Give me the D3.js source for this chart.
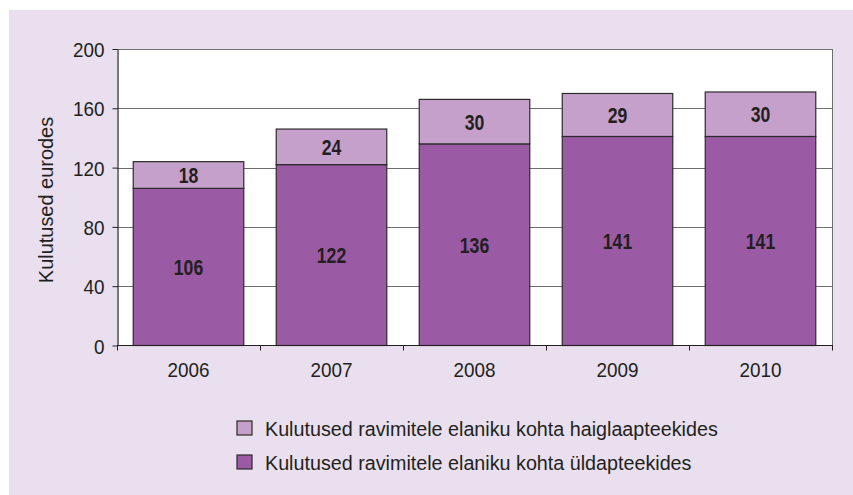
<!DOCTYPE html>
<meta charset="utf-8">
<style>
  body{ margin:0; background:#fff; }
  text{ font-family: "Liberation Sans", Arial, sans-serif; fill:#231f20; }
  .axis path, .axis line{ stroke:#231f20; }
  .grid line{ stroke:#6d6d6d; }
  .barLabel{ font-size:22px; font-weight:bold; }
</style>
<body>
<div id="container"></div>
<script src="https://d3js.org/d3.v7.min.js"></script>
<script>

var years = ['2006', '2007', '2008', '2009', '2010'];
var yldapteegid = [106, 122, 136, 141, 141];
var haiglaapteegid = [18, 24, 30, 29, 30];
var yTicks = [0, 40, 80, 120, 160, 200];
var seriesNames = ['Kulutused ravimitele elaniku kohta haiglaapteekides', 'Kulutused ravimitele elaniku kohta üldapteekides'];
var colors = ['#c5a0cb', '#9a5aa4'];

var width = 853, height = 495;
var plot = {left:117, top:49, right:832, bottom:345.5};
var narrow = 0.9;   // the original face is a condensed Helvetica

var svg = d3.select('#container').append('svg').attr('width', width).attr('height', height);

svg.append('rect').attr('x', 9).attr('y', 10).attr('width', width - 9).attr('height', height - 10).attr('fill', '#e9dfee');
svg.append('rect').attr('x', plot.left).attr('y', plot.top).attr('width', plot.right - plot.left).attr('height', plot.bottom - plot.top).attr('fill', '#fff');

var x = d3.scaleBand().domain(years).range([plot.left, plot.right]).paddingInner(0.227).paddingOuter(0.1135);
var y = d3.scaleLinear().domain([0, 200]).range([plot.bottom, plot.top]);

function squeeze(px, py, sx){
  return 'translate(' + px + ',' + py + ') scale(' + sx + ',1)';
}

// grid
svg.append('g').attr('class', 'grid').selectAll('line').data(yTicks.slice(1)).enter().append('line')
  .attr('x1', plot.left).attr('x2', plot.right)
  .attr('y1', function(d){ return Math.round(y(d)) + 0.5; })
  .attr('y2', function(d){ return Math.round(y(d)) + 0.5; });

// right border
svg.append('line').attr('x1', plot.right + 0.5).attr('x2', plot.right + 0.5).attr('y1', plot.top).attr('y2', plot.bottom).attr('stroke', '#6d6d6d');

var stacked = years.map(function(yr, i){
  return {year:yr, low:yldapteegid[i], high:haiglaapteegid[i]};
});

var bars = svg.append('g').selectAll('g').data(stacked).enter().append('g');

bars.append('rect')
  .attr('x', function(d){ return x(d.year); })
  .attr('width', x.bandwidth())
  .attr('y', function(d){ return y(d.low); })
  .attr('height', function(d){ return y(0) - y(d.low); })
  .attr('fill', colors[1]).attr('stroke', '#2b2b2b').attr('stroke-width', 1.2);

bars.append('rect')
  .attr('x', function(d){ return x(d.year); })
  .attr('width', x.bandwidth())
  .attr('y', function(d){ return y(d.low + d.high); })
  .attr('height', function(d){ return y(d.low) - y(d.low + d.high); })
  .attr('fill', colors[0]).attr('stroke', '#2b2b2b').attr('stroke-width', 1.2);

bars.append('text').attr('class', 'barLabel').attr('text-anchor', 'middle').attr('dy', '0.36em')
  .attr('transform', function(d){ return squeeze(x(d.year) + x.bandwidth() / 2, (y(0) + y(d.low)) / 2, 0.8); })
  .text(function(d){ return d.low; });

bars.append('text').attr('class', 'barLabel').attr('text-anchor', 'middle').attr('dy', '0.36em')
  .attr('transform', function(d){ return squeeze(x(d.year) + x.bandwidth() / 2, (y(d.low) + y(d.low + d.high)) / 2, 0.8); })
  .text(function(d){ return d.high; });

// y axis
var yAxis = svg.append('g').attr('class', 'axis').attr('transform', 'translate(' + (plot.left + 0.5) + ',0)')
  .call(d3.axisLeft(y).tickValues(yTicks).tickSize(5).tickSizeOuter(0));
yAxis.select('.domain').attr('stroke-width', 1.2);
yAxis.selectAll('.tick text')
  .attr('x', null).attr('dy', null)
  .attr('transform', squeeze(-13, 7.5, narrow))
  .style('font-size', '21px').attr('fill', '#231f20');

// x axis, ticks on category edges
var xAxis = svg.append('g').attr('class', 'axis').attr('transform', 'translate(0,' + (plot.bottom) + ')');
xAxis.append('line').attr('x1', plot.left).attr('x2', plot.right + 1).attr('y1', 0).attr('y2', 0).attr('stroke-width', 1.2);
xAxis.selectAll('.tickEdge').data(d3.range(years.length + 1)).enter().append('line').attr('class', 'tickEdge')
  .attr('x1', function(i){ return plot.left + 0.5 + i * x.step(); })
  .attr('x2', function(i){ return plot.left + 0.5 + i * x.step(); })
  .attr('y1', 0).attr('y2', 5);
xAxis.selectAll('.yearLabel').data(years).enter().append('text').attr('class', 'yearLabel')
  .attr('text-anchor', 'middle').style('font-size', '21px')
  .attr('transform', function(d){ return squeeze(x(d) + x.bandwidth() / 2, 31, narrow); })
  .text(function(d){ return d; });

svg.append('text').attr('transform', 'translate(53,200) rotate(-90) scale(0.95,1)')
  .attr('text-anchor', 'middle').style('font-size', '21px').text('Kulutused eurodes');

// legend
var legend = svg.append('g').attr('class', 'legend').selectAll('g').data(seriesNames).enter().append('g')
  .attr('transform', function(d, i){ return 'translate(237,' + (428 + i * 34) + ')'; });
legend.append('rect').attr('x', 0).attr('y', -7).attr('width', 15).attr('height', 14)
  .attr('fill', function(d, i){ return colors[i]; }).attr('stroke', '#2b2b2b').attr('stroke-width', 1.2);
legend.append('text').attr('transform', squeeze(28, 7.5, 0.94)).style('font-size', '21px')
  .text(function(d){ return d; });

</script>
</body>
</html>
